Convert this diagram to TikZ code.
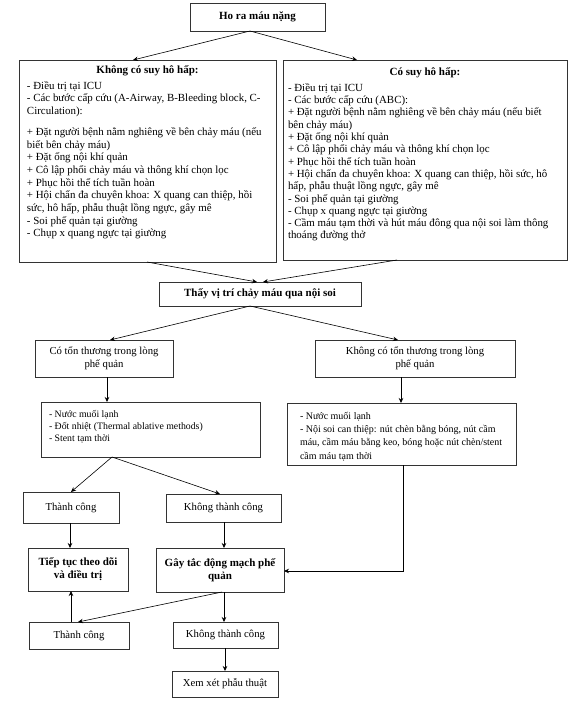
\documentclass[tikz,border=0pt]{standalone}
\usepackage{fontspec}
\setmainfont{Liberation Serif}
\usetikzlibrary{arrows.meta,calc}
\newcommand{\fs}[2]{\fontsize{#1}{#2}\selectfont\lineskiplimit=-100pt\relax}
\begin{document}
\begin{tikzpicture}[x=1pt,y=-1pt,
  box/.style={draw=black!80, line width=0.8pt, inner sep=0pt, outer sep=0pt, align=center, anchor=north west},
  bigbox/.style={draw=black!80, line width=0.8pt, inner ysep=5pt, outer sep=0pt, anchor=north west},
  arr/.style={-{Stealth[length=5pt,width=4.5pt]}, line width=0.6pt},
  lbl/.style={font=\fs{10.7}{13}},
  blbl/.style={font=\fs{11}{13}\bfseries},
  txt/.style={font=\fs{10.9}{12.65}},
  small/.style={font=\fs{9.8}{12.2}}]
\useasboundingbox (0,0) rectangle (575,709);

% top
\node[box, blbl, minimum width=135pt, minimum height=28pt] (top) at (190,3) {Ho ra máu nặng};

% left big box
\node[bigbox, txt, inner xsep=8pt] (lb) at (19,60) {\parbox[t][192pt][t]{241pt}{%
{\centering\fs{11}{12}\textbf{Không có suy hô hấp:}\par}\vspace{3.5pt}
\raggedright
- Điều trị tại ICU\\
- Các bước cấp cứu (A-Airway, B-Bleeding block, C-\\
Circulation):\\[8.5pt]
+ Đặt người bệnh nằm nghiêng về bên chảy máu (nếu\\
biết bên chảy máu)\\
+ Đặt ống nội khí quản\\
+ Cô lập phổi chảy máu và thông khí chọn lọc\\
+ Phục hồi thể tích tuần hoàn\\
+ Hội chẩn đa chuyên khoa: X quang can thiệp, hồi\\
sức, hô hấp, phẫu thuật lồng ngực, gây mê\\
- Soi phế quản tại giường\\
- Chụp x quang ngực tại giường}};

% right big box
\node[bigbox, txt, inner xsep=5pt, inner ysep=7pt] (rb) at (283,60) {\parbox[t][186pt][t]{274pt}{%
{\centering\fs{11}{12}\textbf{Có suy hô hấp:}\par}\vspace{4pt}
\raggedright\fs{10.9}{12.3}
- Điều trị tại ICU\\
- Các bước cấp cứu (ABC):\\
+ Đặt người bệnh nằm nghiêng về bên chảy máu (nếu biết\\
bên chảy máu)\\
+ Đặt ống nội khí quản\\
+ Cô lập phổi chảy máu và thông khí chọn lọc\\
+ Phục hồi thể tích tuần hoàn\\
+ Hội chẩn đa chuyên khoa: X quang can thiệp, hồi sức, hô\\
hấp, phẫu thuật lồng ngực, gây mê\\
- Soi phế quản tại giường\\
- Chụp x quang ngực tại giường\\
- Cầm máu tạm thời và hút máu đông qua nội soi làm thông\\
thoáng đường thở}};

% middle
\node[box, blbl, minimum width=202pt, minimum height=24pt] (mid) at (159,282) {Thấy vị trí chảy máu qua nội soi};

\node[box, lbl, minimum width=138pt, minimum height=37pt] (ct) at (35,340) {Có tổn thương trong lòng\\phế quản};
\node[box, lbl, minimum width=200pt, minimum height=37pt] (kct) at (315,340) {Không có tổn thương trong lòng\\phế quản};

% treatment boxes
\node[bigbox, small, inner xsep=8pt, inner ysep=8pt] (lt) at (41,402) {\parbox[t][39pt][t]{203pt}{\raggedright
- Nước muối lạnh\\
- Đốt nhiệt (Thermal ablative methods)\\
- Stent tạm thời}};
\node[bigbox, small, inner xsep=13pt, inner ysep=9pt] (rt) at (287,403) {\parbox[t][44pt][t]{203pt}{\raggedright\fs{10}{13.3}
- Nước muối lạnh\\
- Nội soi can thiệp: nút chèn bằng bóng, nút cầm\\
máu, cầm máu bằng keo, bóng hoặc nút chèn/stent\\
cầm máu tạm thời}};

\node[box, lbl, minimum width=96pt, minimum height=31pt] (tc1) at (23,492) {Thành công};
\node[box, lbl, minimum width=115pt, minimum height=28pt] (ktc1) at (166,494) {Không thành công};

\node[box, blbl, minimum width=100pt, minimum height=43pt] (tt) at (28,548) {Tiếp tục theo dõi\\và điều trị};
\node[box, blbl, minimum width=128pt, minimum height=44pt] (gt) at (156,548) {Gây tắc động mạch phế\\quản};

\node[box, lbl, minimum width=100pt, minimum height=27pt] (tc2) at (29,622) {Thành công};
\node[box, lbl, minimum width=105pt, minimum height=26pt] (ktc2) at (173,622) {Không thành công};
\node[box, lbl, minimum width=106pt, minimum height=26pt] (xx) at (172,671) {Xem xét phẫu thuật};

% connectors
\draw[arr] ($(top.south west)+(60,0)$) -- ($(lb.north west)+(114,0)$);
\draw[arr] ($(top.south west)+(60,0)$) -- ($(rb.north west)+(74,0)$);
\draw[arr] ($(lb.south west)+(128,0)$) -- ($(mid.north west)+(98,0)$);
\draw[arr] ($(rb.south west)+(114,0)$) -- ($(mid.north west)+(104,0)$);
\draw[arr] ($(mid.south west)+(91,0)$) -- ($(ct.north west)+(75,0)$);
\draw[arr] ($(mid.south west)+(91,0)$) -- ($(kct.north west)+(83,0)$);
\draw[arr] ($(ct.south west)+(72,0)$) coordinate (a7) -- (a7 |- lt.north);
\draw[arr] ($(kct.south west)+(86,0)$) coordinate (a8) -- (a8 |- rt.north);
\draw[arr] ($(lt.south west)+(71,0)$) -- ($(tc1.north west)+(48,0)$);
\draw[arr] ($(lt.south west)+(71,0)$) -- ($(ktc1.north west)+(54,0)$);
\draw[arr] ($(tc1.south west)+(47,0)$) coordinate (a11) -- (a11 |- tt.north);
\draw[arr] ($(ktc1.south west)+(58,0)$) coordinate (a12) -- (a12 |- gt.north);
\draw[arr] ($(rt.south west)+(116,0)$) |- ($(gt.north east)+(0,23)$);
\draw[arr] ($(gt.south west)+(66,0)$) -- ($(tc2.north west)+(49,0)$);
\draw[arr] ($(gt.south west)+(68,0)$) coordinate (a15) -- (a15 |- ktc2.north);
\draw[arr] ($(tc2.north west)+(42,0)$) coordinate (a16) -- (a16 |- tt.south);
\draw[arr] ($(ktc2.south west)+(52,0)$) coordinate (a17) -- (a17 |- xx.north);
\end{tikzpicture}
\end{document}
